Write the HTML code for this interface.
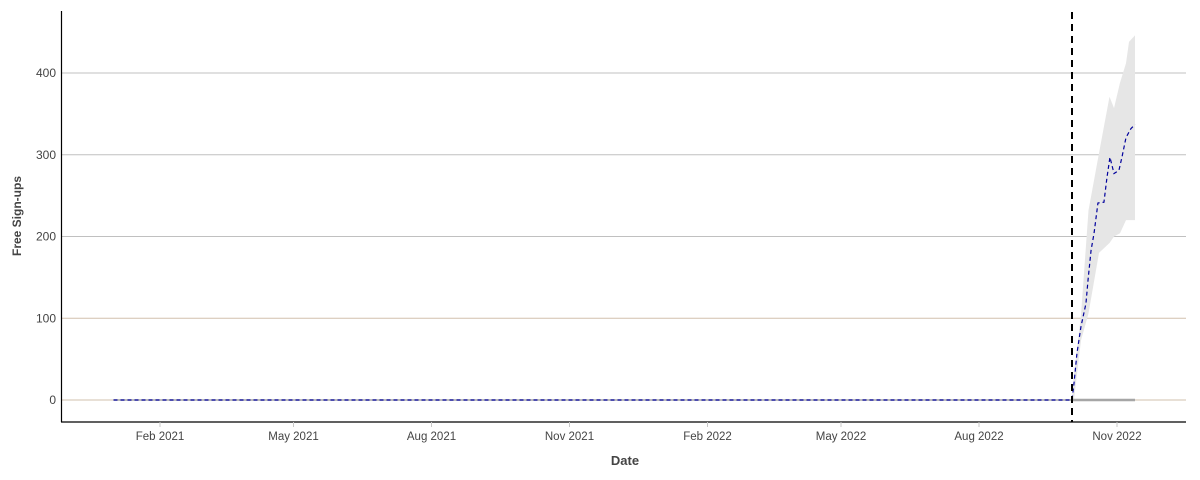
<!DOCTYPE html>
<html><head><meta charset="utf-8">
<style>
html,body{margin:0;padding:0;background:#fff;}
svg{display:block;font-family:"Liberation Sans","DejaVu Sans",sans-serif;}
</style></head>
<body>
<svg id="chart" width="1200" height="480" viewBox="0 0 1200 480" xmlns="http://www.w3.org/2000/svg"></svg>
<script>
// ---- data ----
const yTicks = [0, 100, 200, 300, 400];
const xTickLabels = ["Feb 2021","May 2021","Aug 2021","Nov 2021","Feb 2022","May 2022","Aug 2022","Nov 2022"];
const xTickDates = ["2021-02-01","2021-05-01","2021-08-01","2021-11-01","2022-02-01","2022-05-01","2022-08-01","2022-11-01"];
const historyStart = "2021-01-01";
const forecastStart = "2022-10-02";
const forecastEnd = "2022-11-13";
const historyValue = 0;
const fcDays  = [0, 1.3, 3.3, 6, 9.3, 10.7, 12.7, 14.7, 17.3, 21.3, 23.3, 25.3, 28, 31.3, 33.3, 36, 39.3, 42];
const fcValue = [0, 20, 57, 90, 118, 147, 183, 204, 241, 242, 272, 297, 277, 281, 297, 321, 332, 337];
const bandDays  = [0, 1.3, 6, 11, 18, 25, 28, 32, 36, 38, 42];
const bandUpper = [0, 30, 104, 232, 302, 371, 357, 388, 412, 438, 446];
const bandLower = [0, 0, 73, 106, 180, 192, 200, 204, 220, 220, 220];

// ---- scales ----
const NS = "http://www.w3.org/2000/svg";
const svg = document.getElementById("chart");
const DAY = 86400000;
const refDate = Date.UTC(2021,1,1);
const toDay = s => (Date.parse(s + "T00:00:00Z") - refDate) / DAY;
const x = d => 160 + d * 1.5;       // d = days since Feb 1 2021
const y = v => 400 - v * 0.8175;
const fc0 = toDay(forecastStart);

function el(tag, attrs, parent){
  const e = document.createElementNS(NS, tag);
  for (const k in attrs) e.setAttribute(k, attrs[k]);
  (parent||svg).appendChild(e);
  return e;
}

// gridlines
yTicks.forEach(v => {
  const g = el("line",{x1:61,x2:1186,y1:y(v),y2:y(v),stroke:(v<=100?"#d2c0ae":"#c0c0c0"),"stroke-width":1});
  
  
  const t = el("text",{x:56,y:y(v)+4,"text-anchor":"end","font-size":12,fill:"#444"});
  t.textContent = v;
  
  
});

// band
let pts = bandDays.map((d,i)=>x(fc0+d)+","+y(bandUpper[i]));
pts = pts.concat(bandDays.map((d,i)=>x(fc0+d)+","+y(bandLower[i])).reverse());
const band = el("polygon",{points:pts.join(" "),fill:"#e6e6e6"});



// actual line
const act = el("line",{x1:x(toDay(historyStart)),x2:x(toDay(forecastEnd)),y1:y(historyValue),y2:y(historyValue),stroke:"#a6a6a6","stroke-width":1.5});


const act2 = el("line",{x1:x(fc0),x2:x(toDay(forecastEnd)),y1:y(historyValue),y2:y(historyValue),stroke:"#a6a6a6","stroke-width":2.5});



// forecast dashed line
let lp = [x(toDay(historyStart))+","+y(historyValue)];
fcDays.forEach((d,i)=>lp.push(x(fc0+d)+","+y(fcValue[i])));
const fl = el("polyline",{points:lp.join(" "),fill:"none",stroke:"#00009c","stroke-width":1.2,"stroke-dasharray":"4,3"});



// cutoff line
const cut = el("line",{x1:x(fc0),x2:x(fc0),y1:12,y2:422,stroke:"#000","stroke-width":2,"stroke-dasharray":"7,5"});



// axes
const ya = el("line",{x1:61.5,x2:61.5,y1:11,y2:422,stroke:"#000","stroke-width":1.2});


const xa = el("line",{x1:61,x2:1186,y1:422,y2:422,stroke:"#000","stroke-width":1.2});



xTickDates.forEach((s,i)=>{
  const px = x(toDay(s));
  const tk = el("line",{x1:px,x2:px,y1:422,y2:427,stroke:"#c8c8c8"});
  
  
  const t = el("text",{x:px,y:440,"text-anchor":"middle","font-size":11.5,fill:"#444"});
  t.textContent = xTickLabels[i];
  
  
});

const xt = el("text",{x:625,y:465,"text-anchor":"middle","font-size":13,"font-weight":"bold",fill:"#444"});
xt.textContent = "Date";


const yt = el("text",{x:0,y:0,"text-anchor":"middle","font-size":12,"font-weight":"bold",fill:"#444",transform:"translate(21,216) rotate(-90)"});
yt.textContent = "Free Sign-ups";


</script>
</body></html>
